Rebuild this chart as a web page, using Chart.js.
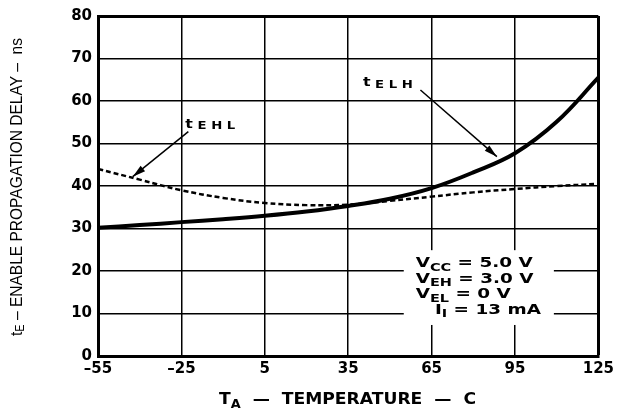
<!DOCTYPE html>
<html>
<head>
<meta charset="utf-8">
<script src="https://cdn.jsdelivr.net/npm/chart.js@4/dist/chart.umd.min.js"></script>
<style>
  html, body { margin: 0; padding: 0; background: #fff; }
  canvas { display: block; }
</style>
</head>
<body>
<canvas id="myChart" width="618" height="415"></canvas>
<script>
// temperatures (C) where the curves were read
const temps = [-55, -40, -25, -10, 5, 20, 35, 50, 65, 80, 95, 110, 125];
// tELH, solid curve (ns)
const tELH = [30.2, 30.8, 31.5, 32.2, 33, 34, 35.3, 37, 39.5, 43.2, 47.7, 55.1, 65.5];
// tEHL, dashed curve (ns)
const tEHL = [44, 41.5, 39, 37.2, 36, 35.5, 35.6, 36.5, 37.5, 38.5, 39.3, 40, 40.5];

const xTicks = [-55, -25, 5, 35, 65, 95, 125];
const yTicks = [0, 10, 20, 30, 40, 50, 60, 70, 80];

// test conditions: [main, subscript, rest]
const conditions = [
    ['V', 'CC', ' = 5.0 V'],
    ['V', 'EH', ' = 3.0 V'],
    ['V', 'EL', ' = 0 V'],
    ['   I', 'I', ' = 13 mA']
];

const FONT = '"DejaVu Sans", "Liberation Sans", sans-serif';
const FONT_THIN = '"Liberation Sans", Arial, sans-serif';

function toPoints(ys) {
    return temps.map((t, i) => ({ x: t, y: ys[i] }));
}

function arrow(ctx, x1, y1, x2, y2) {
    ctx.beginPath();
    ctx.moveTo(x1, y1);
    ctx.lineTo(x2, y2);
    ctx.lineWidth = 1.5;
    ctx.stroke();
    const a = Math.atan2(y2 - y1, x2 - x1);
    const len = 13, w = 3.5;
    ctx.beginPath();
    ctx.moveTo(x2, y2);
    ctx.lineTo(x2 - len * Math.cos(a) + w * Math.sin(a), y2 - len * Math.sin(a) - w * Math.cos(a));
    ctx.lineTo(x2 - len * Math.cos(a) - w * Math.sin(a), y2 - len * Math.sin(a) + w * Math.cos(a));
    ctx.closePath();
    ctx.fill();
}

// text made of [text, font, dy] runs, squeezed or stretched to a width
function richText(ctx, runs, x, y, width) {
    let natural = 0;
    runs.forEach(r => { ctx.font = r[1]; natural += ctx.measureText(r[0]).width; });
    const sx = width ? width / natural : 1;
    ctx.save();
    ctx.translate(x, y);
    ctx.scale(sx, 1);
    let px = 0;
    runs.forEach(r => {
        ctx.font = r[1];
        ctx.fillText(r[0], px, r[2] || 0);
        px += ctx.measureText(r[0]).width;
    });
    ctx.restore();
    return natural * sx;
}

const annotations = {
    id: 'annotations',
    beforeDatasetsDraw(chart) {
        const { ctx, scales: { x, y } } = chart;
        // white box behind the test conditions
        ctx.save();
        ctx.fillStyle = '#fff';
        const bx1 = x.getPixelForValue(55), bx2 = x.getPixelForValue(109);
        const by1 = y.getPixelForValue(24.9), by2 = y.getPixelForValue(7.3);
        ctx.fillRect(bx1, by1, bx2 - bx1, by2 - by1);
        ctx.restore();
    },
    afterDatasetsDraw(chart) {
        const { ctx, scales: { x, y } } = chart;
        ctx.save();
        ctx.fillStyle = '#000';
        ctx.strokeStyle = '#000';
        ctx.textBaseline = 'middle';

        // curve labels and arrows
        richText(ctx, [['t', 'bold 12px ' + FONT, -1], [' E L H', 'bold 10px ' + FONT, 1]],
            x.getPixelForValue(40.3), y.getPixelForValue(64), 50);
        arrow(ctx, x.getPixelForValue(61), y.getPixelForValue(62.6),
            x.getPixelForValue(88.5), y.getPixelForValue(46.9));
        richText(ctx, [['t', 'bold 12px ' + FONT, -1], [' E H L', 'bold 10px ' + FONT, 1]],
            x.getPixelForValue(-23.6), y.getPixelForValue(54.2), 50);
        arrow(ctx, x.getPixelForValue(-22.5), y.getPixelForValue(52.8),
            x.getPixelForValue(-42.5), y.getPixelForValue(42.2));

        // test conditions
        const lineVals = [21.7, 18.1, 14.4, 10.8];
        const main = 'bold 14px ' + FONT, sub = 'bold 11px ' + FONT;
        ctx.font = main;
        let w0 = ctx.measureText(conditions[0][0] + conditions[0][2]).width;
        ctx.font = sub;
        w0 += ctx.measureText(conditions[0][1]).width;
        const sx = 117 / w0;
        conditions.forEach((c, i) => {
            ctx.font = main;
            let w = ctx.measureText(c[0] + c[2]).width;
            ctx.font = sub;
            w += ctx.measureText(c[1]).width;
            richText(ctx, [[c[0], main, 0], [c[1], sub, 4], [c[2], main, 0]],
                x.getPixelForValue(59.3), y.getPixelForValue(lineVals[i]), w * sx);
        });
        ctx.restore();
    },
    afterDraw(chart) {
        const { ctx } = chart;
        ctx.save();
        ctx.fillStyle = '#000';
        ctx.textBaseline = 'middle';

        // y title, rotated, with subscript
        ctx.translate(17, 336);
        ctx.rotate(-Math.PI / 2);
        richText(ctx, [
            ['t', '17px ' + FONT_THIN, 0],
            ['E', '12px ' + FONT_THIN, 4],
            [' \u2013 ENABLE PROPAGATION DELAY \u2013  ns', '17px ' + FONT_THIN, 0]
        ], 0, 0, 298);
        ctx.restore();

        // x title
        ctx.save();
        ctx.fillStyle = '#000';
        ctx.textBaseline = 'middle';
        richText(ctx, [
            ['T', 'bold 16px ' + FONT, 0],
            ['A', 'bold 12px ' + FONT, 5],
            ['  \u2014  TEMPERATURE  \u2014  C', 'bold 16px ' + FONT, 0]
        ], 219, 400, 257);
        ctx.restore();
    }
};

const ctx = document.getElementById('myChart').getContext('2d');

const myChart = new Chart(ctx, {
    type: 'line',
    data: {
        datasets: [
            {
                label: 'tELH',
                data: toPoints(tELH),
                borderColor: '#000',
                borderWidth: 4,
                pointRadius: 0,
                tension: 0.4,
                fill: false
            },
            {
                label: 'tEHL',
                data: toPoints(tEHL),
                borderColor: '#000',
                borderWidth: 2.5,
                borderDash: [5, 3],
                pointRadius: 0,
                tension: 0.4,
                fill: false
            }
        ]
    },
    options: {
        responsive: false,
        animation: false,
        devicePixelRatio: 1,
        layout: { padding: { left: 0, top: 16, right: 19, bottom: 0 } },
        plugins: {
            legend: { display: false },
            tooltip: { enabled: false }
        },
        scales: {
            x: {
                type: 'linear',
                min: -55,
                max: 125,
                afterBuildTicks: scale => { scale.ticks = xTicks.map(v => ({ value: v })); },
                afterFit: scale => { scale.height = 59; },
                grid: {
                    color: '#000',
                    lineWidth: c => (c.index === xTicks.length - 1 ? 3 : 1.5),
                    drawTicks: false
                },
                border: { color: '#000', width: 3 },
                ticks: {
                    padding: 4,
                    color: '#000',
                    font: { family: FONT, size: 15, weight: 'bold' },
                    callback: v => String(v).replace('-', '\u2013')
                }
            },
            y: {
                type: 'linear',
                min: 0,
                max: 80,
                afterBuildTicks: scale => { scale.ticks = yTicks.map(v => ({ value: v })); },
                afterFit: scale => { scale.width = 98; },
                grid: {
                    color: '#000',
                    lineWidth: c => (c.index === yTicks.length - 1 ? 3 : 1.5),
                    drawTicks: false
                },
                border: { color: '#000', width: 3 },
                ticks: {
                    padding: 6,
                    color: '#000',
                    font: { family: FONT, size: 15, weight: 'bold' }
                }
            }
        }
    },
    plugins: [annotations]
});
</script>
</body>
</html>
